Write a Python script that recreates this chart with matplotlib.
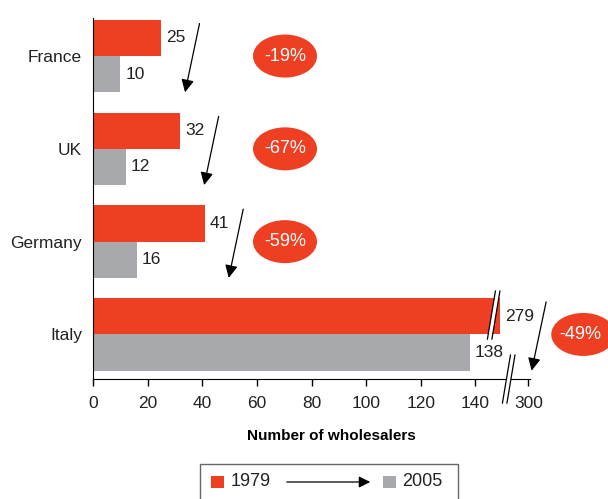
import numpy as np
import matplotlib
matplotlib.use('Agg')
import matplotlib.pyplot as plt
from matplotlib.patches import Ellipse, Rectangle, Polygon

plt.rcParams['font.family'] = ['Liberation Sans', 'DejaVu Sans']

countries = ['France', 'UK', 'Germany', 'Italy']
w1979 = [25, 32, 41, 279]
w2005 = [10, 12, 16, 138]
changes = ['-19%', '-67%', '-59%', '-49%']
tick_vals = [0, 20, 40, 60, 80, 100, 120, 140, 300]

RED = '#ee3f23'
GREY = '#a7a9ac'
BREAK = 140

def xpos(v):
    # broken axis: values above the break are squeezed
    v = np.asarray(v, dtype=float)
    return np.where(v <= BREAK, v, v * 0.5 + 9.4)

W, H = 608, 499
fig = plt.figure(figsize=(W / 100, H / 100), dpi=100)
ax = fig.add_axes([93 / W, 1 - 379 / H, 437 / W, 361 / H])

yy = np.arange(len(countries))
h = 0.39
ax.barh(yy - h / 2, xpos(w1979), height=h, color=RED)
ax.barh(yy + h / 2, xpos(w2005), height=h, color=GREY)
ax.set_xlim(0, 160)
ax.set_ylim(3.48, -0.41)

ax.set_yticks(yy)
ax.set_yticklabels(countries, fontsize=12.5, color='#222222')
ax.tick_params(axis='y', length=0, pad=8)
ax.set_xticks(xpos(tick_vals))
ax.set_xticklabels([str(t) for t in tick_vals], fontsize=12.5, color='#222222')
ax.tick_params(axis='x', length=5, width=1, pad=7, direction='out')
ax.set_xlabel('Number of wholesalers', fontsize=11, fontweight='bold',
              labelpad=13, x=0.545)
for s in ['top', 'right']:
    ax.spines[s].set_visible(False)

px_x = 2.73   # pixels per x unit
px_y = 92.8   # pixels per y unit

for i, (a, b) in enumerate(zip(w1979, w2005)):
    ea = float(xpos(a))
    eb = float(xpos(b))
    ax.annotate(str(a), (ea, i - h / 2), xytext=(5, 0), textcoords='offset pixels',
                va='center', ha='left', fontsize=12.5, color='#222222')
    ax.annotate(str(b), (eb, i + h / 2), xytext=(5, 0), textcoords='offset pixels',
                va='center', ha='left', fontsize=12.5, color='#222222')
    tail = ea + 8 + 3 * len(str(a))
    ax.annotate('', xy=(tail - 5.3, i + 0.39), xytext=(tail, i - 0.35),
                arrowprops=dict(arrowstyle='-|>', mutation_scale=19, lw=0.9,
                                color='black', shrinkA=0, shrinkB=0),
                annotation_clip=False)

# change bubbles
bx = [70.3, 70.3, 70.3, 179.5]
for i, txt in enumerate(changes):
    e = Ellipse((bx[i], i), 64 / px_x, 43 / px_y, color=RED, clip_on=False, lw=0)
    ax.add_patch(e)
    ax.text(bx[i] - (1.2 if i == 3 else 0), i, txt, color='white', fontsize=13,
            ha='center', va='center', clip_on=False)

def break_mark(xc, y0, y1, gap=4.5, slant=8):
    # two parallel slanted lines with a white gap between them
    dx = slant / 2 / px_x
    g = gap / 2 / px_x
    ax.add_patch(Polygon([(xc - g + dx, y0), (xc + g + dx, y0),
                          (xc + g - dx, y1), (xc - g - dx, y1)],
                         closed=True, color='white', lw=0, clip_on=False, zorder=5))
    for s in (-g, g):
        ax.plot([xc + s + dx, xc + s - dx], [y0, y1], color='black', lw=0.9,
                clip_on=False, zorder=6)

break_mark(146.7, (291 - 56) / px_y, (339 - 56) / px_y)
break_mark(152.2, (355 - 56) / px_y, (403 - 56) / px_y)

# legend drawn by hand
def fx(p):
    return p / W

def fy(p):
    return 1 - p / H

fig.patches.append(Rectangle((fx(200), fy(505)), fx(458) - fx(200), fy(464) - fy(505),
                             transform=fig.transFigure, fill=False,
                             edgecolor='#666666', lw=1))
fig.patches.append(Rectangle((fx(211), fy(488)), 13 / W, 12 / H,
                             transform=fig.transFigure, color=RED, lw=0))
fig.patches.append(Rectangle((fx(383), fy(488)), 13 / W, 12 / H,
                             transform=fig.transFigure, color=GREY, lw=0))
fig.text(fx(231), fy(482), '1979', fontsize=13, va='center', ha='left', color='#222222')
fig.text(fx(402), fy(482), '2005', fontsize=13, va='center', ha='left', color='#222222')
fig.add_artist(matplotlib.patches.FancyArrowPatch(
    (fx(284), fy(482)), (fx(373), fy(482)), transform=fig.transFigure,
    arrowstyle='-|>', mutation_scale=17, lw=0.9, color='black'))

fig.savefig('out.png', dpi=100)
